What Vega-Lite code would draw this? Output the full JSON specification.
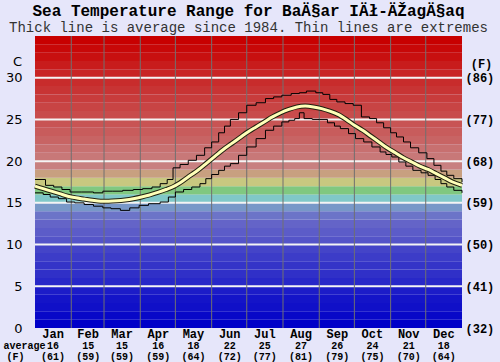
{
  "$schema": "https://vega.github.io/schema/vega-lite/v6.json",
  "width": 427,
  "height": 292,
  "autosize": {"type": "none"},
  "padding": {"left": 35, "top": 36, "right": 38, "bottom": 34},
  "background": "#e6e6fa",
  "config": {"view": {"stroke": null}},
  "title": {
    "text": "Sea Temperature Range for BaÄ§ar IÄł-ÄŽagÄ§aq",
    "subtitle": "Thick line is average since 1984. Thin lines are extremes",
    "font": "Liberation Mono", "fontSize": 16, "fontWeight": "bold", "color": "black",
    "subtitleFont": "Liberation Mono", "subtitleFontSize": 14, "subtitleColor": "#333333",
    "anchor": "middle", "offset": 1, "subtitlePadding": 2
  },
  "datasets": {
    "bands": [
      {"lo": 0, "hi": 1}, {"lo": 1, "hi": 2}, {"lo": 2, "hi": 3}, {"lo": 3, "hi": 4}, {"lo": 4, "hi": 5},
      {"lo": 5, "hi": 6}, {"lo": 6, "hi": 7}, {"lo": 7, "hi": 8}, {"lo": 8, "hi": 9}, {"lo": 9, "hi": 10},
      {"lo": 10, "hi": 11}, {"lo": 11, "hi": 12}, {"lo": 12, "hi": 13}, {"lo": 13, "hi": 14}, {"lo": 14, "hi": 15},
      {"lo": 15, "hi": 16}, {"lo": 16, "hi": 17}, {"lo": 17, "hi": 18}, {"lo": 18, "hi": 19}, {"lo": 19, "hi": 20},
      {"lo": 20, "hi": 21}, {"lo": 21, "hi": 22}, {"lo": 22, "hi": 23}, {"lo": 23, "hi": 24}, {"lo": 24, "hi": 25},
      {"lo": 25, "hi": 26}, {"lo": 26, "hi": 27}, {"lo": 27, "hi": 28}, {"lo": 28, "hi": 29}, {"lo": 29, "hi": 30},
      {"lo": 30, "hi": 31}, {"lo": 31, "hi": 32}, {"lo": 32, "hi": 33}, {"lo": 33, "hi": 34}, {"lo": 34, "hi": 35}
    ],
    "grid": [{"t": 5}, {"t": 10}, {"t": 15}, {"t": 20}, {"t": 25}, {"t": 30}],
    "months": [{"day": 31}, {"day": 59}, {"day": 90}, {"day": 120}, {"day": 151}, {"day": 181}, {"day": 212}, {"day": 243}, {"day": 273}, {"day": 304}, {"day": 334}],
    "avg": [
      {"day": 0, "t": 17.0}, {"day": 7, "t": 16.7}, {"day": 14, "t": 16.4}, {"day": 21, "t": 16.1},
      {"day": 28, "t": 15.8}, {"day": 35, "t": 15.6}, {"day": 42, "t": 15.45}, {"day": 49, "t": 15.3},
      {"day": 56, "t": 15.2}, {"day": 63, "t": 15.2}, {"day": 70, "t": 15.25}, {"day": 77, "t": 15.35},
      {"day": 84, "t": 15.5}, {"day": 91, "t": 15.7}, {"day": 98, "t": 15.95}, {"day": 105, "t": 16.25},
      {"day": 112, "t": 16.6}, {"day": 119, "t": 17.0}, {"day": 126, "t": 17.6}, {"day": 133, "t": 18.3},
      {"day": 140, "t": 19.0}, {"day": 147, "t": 19.8}, {"day": 154, "t": 20.6}, {"day": 161, "t": 21.4},
      {"day": 168, "t": 22.1}, {"day": 175, "t": 22.8}, {"day": 182, "t": 23.5}, {"day": 189, "t": 24.1},
      {"day": 196, "t": 24.7}, {"day": 203, "t": 25.3}, {"day": 210, "t": 25.8}, {"day": 217, "t": 26.2},
      {"day": 224, "t": 26.5}, {"day": 231, "t": 26.6}, {"day": 238, "t": 26.5}, {"day": 245, "t": 26.3},
      {"day": 252, "t": 26.0}, {"day": 259, "t": 25.6}, {"day": 266, "t": 25.0}, {"day": 273, "t": 24.3},
      {"day": 280, "t": 23.7}, {"day": 287, "t": 23.0}, {"day": 294, "t": 22.3}, {"day": 301, "t": 21.6},
      {"day": 308, "t": 21.0}, {"day": 315, "t": 20.4}, {"day": 322, "t": 19.9}, {"day": 329, "t": 19.4},
      {"day": 336, "t": 19.0}, {"day": 343, "t": 18.5}, {"day": 350, "t": 18.0}, {"day": 357, "t": 17.5},
      {"day": 365, "t": 17.1}
    ],
    "hi": [
      {"day": 0, "t": 17.8}, {"day": 9, "t": 17.1}, {"day": 16, "t": 16.9}, {"day": 23, "t": 16.6},
      {"day": 30, "t": 16.3}, {"day": 40, "t": 16.3}, {"day": 50, "t": 16.2}, {"day": 58, "t": 16.4},
      {"day": 66, "t": 16.4}, {"day": 75, "t": 16.5}, {"day": 84, "t": 16.6}, {"day": 92, "t": 16.7},
      {"day": 100, "t": 16.9}, {"day": 107, "t": 17.3}, {"day": 113, "t": 17.8}, {"day": 118, "t": 19.2},
      {"day": 124, "t": 19.6}, {"day": 131, "t": 20.1}, {"day": 138, "t": 20.7}, {"day": 145, "t": 21.6},
      {"day": 151, "t": 22.3}, {"day": 157, "t": 23.4}, {"day": 162, "t": 24.2}, {"day": 167, "t": 25.0},
      {"day": 174, "t": 25.8}, {"day": 181, "t": 26.7}, {"day": 189, "t": 27.0}, {"day": 197, "t": 27.5},
      {"day": 204, "t": 27.7}, {"day": 211, "t": 27.9}, {"day": 219, "t": 28.1}, {"day": 226, "t": 28.2},
      {"day": 232, "t": 28.4}, {"day": 240, "t": 28.2}, {"day": 246, "t": 28.0}, {"day": 252, "t": 27.4},
      {"day": 258, "t": 27.1}, {"day": 265, "t": 26.9}, {"day": 272, "t": 26.7}, {"day": 279, "t": 25.3},
      {"day": 286, "t": 25.1}, {"day": 292, "t": 24.6}, {"day": 298, "t": 24.0}, {"day": 304, "t": 23.4},
      {"day": 309, "t": 22.9}, {"day": 315, "t": 22.3}, {"day": 321, "t": 21.6}, {"day": 328, "t": 21.0},
      {"day": 335, "t": 20.3}, {"day": 341, "t": 19.5}, {"day": 347, "t": 18.8}, {"day": 352, "t": 18.3},
      {"day": 358, "t": 17.9}, {"day": 365, "t": 17.5}
    ],
    "lo": [
      {"day": 0, "t": 16.2}, {"day": 7, "t": 16.0}, {"day": 13, "t": 15.7}, {"day": 20, "t": 15.5},
      {"day": 27, "t": 15.1}, {"day": 34, "t": 15.0}, {"day": 42, "t": 14.8}, {"day": 50, "t": 14.6},
      {"day": 58, "t": 14.4}, {"day": 65, "t": 14.3}, {"day": 73, "t": 14.1}, {"day": 81, "t": 14.4},
      {"day": 89, "t": 14.7}, {"day": 97, "t": 14.9}, {"day": 107, "t": 15.1}, {"day": 114, "t": 15.7},
      {"day": 120, "t": 16.3}, {"day": 127, "t": 16.6}, {"day": 134, "t": 16.9}, {"day": 141, "t": 17.3},
      {"day": 146, "t": 17.9}, {"day": 151, "t": 18.4}, {"day": 157, "t": 18.9}, {"day": 162, "t": 19.4},
      {"day": 167, "t": 19.7}, {"day": 174, "t": 20.7}, {"day": 181, "t": 21.7}, {"day": 189, "t": 22.7},
      {"day": 197, "t": 23.7}, {"day": 204, "t": 24.2}, {"day": 211, "t": 24.7}, {"day": 217, "t": 24.9},
      {"day": 222, "t": 25.1}, {"day": 226, "t": 25.8}, {"day": 230, "t": 25.1}, {"day": 237, "t": 25.0},
      {"day": 243, "t": 25.0}, {"day": 250, "t": 24.6}, {"day": 256, "t": 24.2}, {"day": 261, "t": 23.9},
      {"day": 268, "t": 23.3}, {"day": 274, "t": 22.7}, {"day": 281, "t": 22.3}, {"day": 288, "t": 21.7},
      {"day": 295, "t": 21.1}, {"day": 300, "t": 20.8}, {"day": 305, "t": 20.5}, {"day": 311, "t": 19.9},
      {"day": 317, "t": 19.4}, {"day": 323, "t": 18.9}, {"day": 330, "t": 18.6}, {"day": 336, "t": 18.3},
      {"day": 342, "t": 17.8}, {"day": 347, "t": 17.3}, {"day": 352, "t": 16.9}, {"day": 358, "t": 16.5},
      {"day": 365, "t": 16.2}
    ]
  },
  "layer": [
    {
      "data": {"name": "bands"},
      "mark": {"type": "rect"},
      "encoding": {
        "x": {"datum": 0, "type": "quantitative", "scale": {"domain": [0, 365], "nice": false, "zero": false}, "axis": null},
        "x2": {"datum": 365},
        "y": {"field": "lo", "type": "quantitative", "scale": {"domain": [0, 35], "nice": false},
          "axis": {"orient": "left", "values": [0, 5, 10, 15, 20, 25, 30], "title": "C", "titleAngle": 0, "titleX": -18, "titleY": 25,
            "titleAlign": "center", "titleBaseline": "middle", "titleFont": "DejaVu Sans", "titleFontSize": 13,
            "titleFontWeight": "normal", "titleColor": "black", "labelFont": "DejaVu Sans", "labelFontSize": 13,
            "labelColor": "black", "ticks": false, "tickSize": 0, "domain": false, "grid": false, "labelPadding": 13}},
        "y2": {"field": "hi"},
        "color": {"field": "lo", "type": "ordinal", "legend": null,
          "scale": {"domain": [0,1,2,3,4,5,6,7,8,9,10,11,12,13,14,15,16,17,18,19,20,21,22,23,24,25,26,27,28,29,30,31,32,33,34],
            "range": ["#0000c8","#0808c8","#1010c8","#1414c8","#1c1cc8","#2828c8","#3030c8","#3434c8","#3c3cc8","#4444c8",
                      "#5454c8","#5c5cc8","#6464c8","#6c74c8","#7898c8","#80c8c8","#80c880","#c8c880","#c8a080","#c88080",
                      "#c87878","#c87070","#c86464","#c85c5c","#c85454","#c84c4c","#c84444","#c83c3c","#c83434","#c82c2c",
                      "#c82424","#c81c1c","#c81010","#c80808","#c80000"]}}
      }
    },
    {
      "data": {"name": "grid"},
      "mark": {"type": "rule", "color": "#f4f4f4", "strokeWidth": 2},
      "encoding": {
        "y": {"field": "t", "type": "quantitative",
          "axis": {"orient": "right", "values": [0, 5, 10, 15, 20, 25, 30],
            "labelExpr": "'(' + format(datum.value * 9 / 5 + 32, 'd') + ')'",
            "labelFont": "Liberation Mono", "labelFontSize": 12, "labelFontWeight": "bold", "labelColor": "black",
            "labelPadding": 3, "ticks": false, "tickSize": 0, "domain": false, "grid": false,
            "title": "(F)", "titleAngle": 0, "titleX": 19, "titleY": 27, "titleAlign": "center", "titleBaseline": "middle",
            "titleFont": "Liberation Mono", "titleFontSize": 12, "titleFontWeight": "bold", "titleColor": "black"}}
      }
    },
    {
      "data": {"name": "months"},
      "mark": {"type": "rule", "color": "#707070", "strokeWidth": 1},
      "encoding": {
        "x": {"field": "day", "type": "quantitative",
          "axis": {"orient": "bottom", "values": [15, 45, 74, 105, 135, 166, 196, 227, 258, 288, 319, 349],
            "labelExpr": "['Jan','Feb','Mar','Apr','May','Jun','Jul','Aug','Sep','Oct','Nov','Dec'][floor(datum.value / 30.42)]",
            "labelFont": "Liberation Mono", "labelFontSize": 12, "labelFontWeight": "bold", "labelColor": "black",
            "labelPadding": 0, "ticks": false, "tickSize": 0, "domain": false, "grid": false, "title": null,
            "labelOverlap": false, "labelFlush": false}}
      }
    },
    {
      "data": {"name": "hi"},
      "mark": {"type": "line", "color": "black", "strokeWidth": 1, "interpolate": "step-after"},
      "encoding": {
        "x": {"field": "day", "type": "quantitative",
          "axis": {"orient": "bottom", "values": [15, 45, 74, 105, 135, 166, 196, 227, 258, 288, 319, 349], "offset": 11,
            "labelExpr": "['16','15','15','16','18','22','25','27','26','24','21','18'][floor(datum.value / 30.42)]",
            "labelFont": "Liberation Mono", "labelFontSize": 10, "labelFontWeight": "bold", "labelColor": "black",
            "labelPadding": 1, "ticks": false, "tickSize": 0, "domain": false, "grid": false,
            "labelOverlap": false, "labelFlush": false,
            "title": "average", "titleAngle": 0, "titleX": -11, "titleY": 6, "titleAlign": "center", "titleBaseline": "middle",
            "titleFont": "Liberation Mono", "titleFontSize": 10, "titleFontWeight": "bold", "titleColor": "black"}},
        "y": {"field": "t", "type": "quantitative", "axis": null}
      }
    },
    {
      "data": {"name": "lo"},
      "mark": {"type": "line", "color": "black", "strokeWidth": 1, "interpolate": "step-after"},
      "encoding": {
        "x": {"field": "day", "type": "quantitative",
          "axis": {"orient": "bottom", "values": [15, 45, 74, 105, 135, 166, 196, 227, 258, 288, 319, 349], "offset": 22,
            "labelExpr": "['(61)','(59)','(59)','(59)','(64)','(72)','(77)','(81)','(79)','(75)','(70)','(64)'][floor(datum.value / 30.42)]",
            "labelFont": "Liberation Mono", "labelFontSize": 10, "labelFontWeight": "bold", "labelColor": "black",
            "labelPadding": 1, "ticks": false, "tickSize": 0, "domain": false, "grid": false,
            "labelOverlap": false, "labelFlush": false,
            "title": "(F)", "titleAngle": 0, "titleX": -20, "titleY": 6, "titleAlign": "center", "titleBaseline": "middle",
            "titleFont": "Liberation Mono", "titleFontSize": 10, "titleFontWeight": "bold", "titleColor": "black"}},
        "y": {"field": "t", "type": "quantitative", "axis": null}
      }
    },
    {
      "data": {"name": "avg"},
      "mark": {"type": "line", "color": "#202010", "strokeWidth": 5, "interpolate": "monotone"},
      "encoding": {
        "x": {"field": "day", "type": "quantitative", "axis": null},
        "y": {"field": "t", "type": "quantitative", "axis": null}
      }
    },
    {
      "data": {"name": "avg"},
      "mark": {"type": "line", "color": "#ffffb8", "strokeWidth": 3, "interpolate": "monotone"},
      "encoding": {
        "x": {"field": "day", "type": "quantitative", "axis": null},
        "y": {"field": "t", "type": "quantitative", "axis": null}
      }
    }
  ],
  "resolve": {"axis": {"x": "independent", "y": "independent"}}
}
